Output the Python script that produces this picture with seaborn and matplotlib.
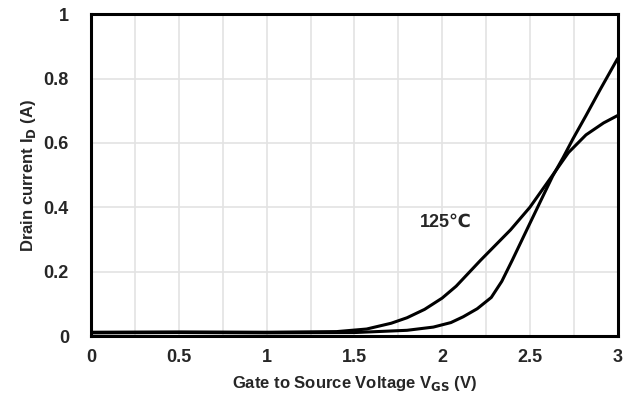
import matplotlib
matplotlib.use('Agg')
import matplotlib.pyplot as plt
import seaborn as sns
import pandas as pd
from matplotlib.ticker import MultipleLocator

# values (Vgs in V, Id in A)
vgs_125 = [0.0, 0.5, 1.0, 1.4, 1.57, 1.71, 1.80, 1.90, 2.00, 2.08, 2.22, 2.39, 2.50, 2.63, 2.72, 2.82, 2.92, 3.0]
id_125 = [0.012, 0.013, 0.012, 0.014, 0.022, 0.040, 0.057, 0.083, 0.118, 0.155, 0.236, 0.330, 0.400, 0.500, 0.570, 0.625, 0.662, 0.685]

vgs_25 = [0.0, 0.5, 1.0, 1.5, 1.80, 1.95, 2.05, 2.12, 2.20, 2.28, 2.34, 2.40, 2.50, 2.575, 2.63, 2.69, 2.745, 2.82, 2.90, 3.0]
id_25 = [0.010, 0.011, 0.010, 0.011, 0.018, 0.028, 0.042, 0.060, 0.085, 0.120, 0.170, 0.236, 0.350, 0.435, 0.497, 0.555, 0.612, 0.685, 0.765, 0.862]

df = pd.concat([
    pd.DataFrame({'Vgs': vgs_125, 'Id': id_125, 'T': '125C'}),
    pd.DataFrame({'Vgs': vgs_25, 'Id': id_25, 'T': '25C'}),
])

sns.set_style('white')
plt.rcParams['font.family'] = ['Liberation Sans', 'DejaVu Sans']
plt.rcParams['font.weight'] = 'bold'

fig, ax = plt.subplots(figsize=(6.42, 4.03), dpi=100)
fig.subplots_adjust(left=0.142, right=0.962, top=0.965, bottom=0.166)

sns.lineplot(data=df, x='Vgs', y='Id', units='T', estimator=None, color='black',
             linewidth=2.2, ax=ax, legend=False, sort=False)

ax.set_xlim(0, 3)
ax.set_ylim(0, 1)
ax.xaxis.set_major_locator(MultipleLocator(0.5))
ax.xaxis.set_minor_locator(MultipleLocator(0.25))
ax.yaxis.set_major_locator(MultipleLocator(0.2))
ax.grid(True, which='both', axis='x', color='#e3e3e3', linewidth=1.2)
ax.grid(True, which='major', axis='y', color='#e3e3e3', linewidth=1.2)

ax.set_xticks([0, 0.5, 1, 1.5, 2, 2.5, 3])
ax.set_xticklabels(['0', '0.5', '1', '1.5', '2', '2.5', '3'])
ax.set_yticks([0, 0.2, 0.4, 0.6, 0.8, 1])
ax.set_yticklabels(['0', '0.2', '0.4', '0.6', '0.8', '1'])
ax.tick_params(axis='both', which='both', length=0, labelsize=13)
ax.tick_params(axis='y', pad=16)
ax.tick_params(axis='x', pad=9)

for s in ax.spines.values():
    s.set_color('black')
    s.set_linewidth(2.2)

ax.set_xlabel('Gate to Source Voltage V$_{\\mathbf{GS}}$ (V)', fontsize=12, fontweight='bold', labelpad=6)
ax.set_ylabel('Drain current I$_{\\mathbf{D}}$ (A)', fontsize=12, fontweight='bold', labelpad=4)

ax.text(2.02, 0.355, '125℃', fontsize=13, fontweight='bold', ha='center', va='center')

plt.savefig('out.png', dpi=100)
